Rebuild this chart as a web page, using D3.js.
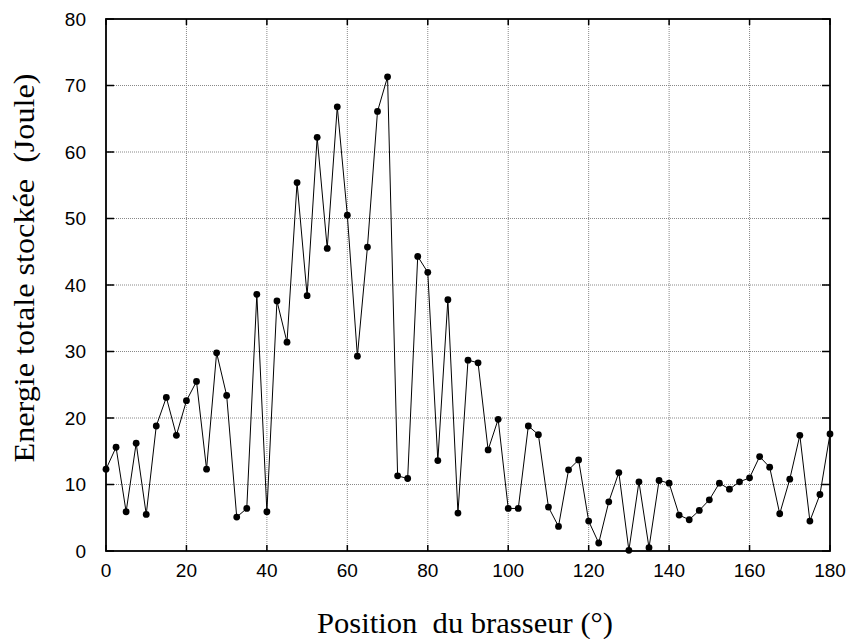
<!DOCTYPE html>
<html>
<head>
<meta charset="utf-8">
<script src="https://cdn.jsdelivr.net/npm/d3@7"></script>
<style>
  body { margin: 0; background: #fff; }
  .grid line { stroke: #888; stroke-width: 1; stroke-dasharray: 1,1; }
  .tick-label { font-family: "Liberation Sans", Arial, sans-serif; font-size: 19px; }
  .axis-title { font-family: "Liberation Serif", "Times New Roman", serif; font-size: 29px; white-space: pre; }
</style>
</head>
<body>
<div id="chart"></div>
<script>
const WIDTH = 850
const HEIGHT = 639

// angle (degrees) every 2.5 deg
const positions = d3.range(0, 180.01, 2.5)
const energies = [
    12.3, 15.6, 5.9, 16.2, 5.5, 18.8, 23.1, 17.4, 22.6, 25.5,
    12.3, 29.8, 23.4, 5.1, 6.4, 38.6, 5.9, 37.6, 31.4, 55.4,
    38.4, 62.2, 45.5, 66.8, 50.5, 29.3, 45.7, 66.1, 71.3, 11.3,
    10.9, 44.3, 41.9, 13.6, 37.8, 5.7, 28.7, 28.3, 15.2, 19.8,
    6.4, 6.4, 18.8, 17.5, 6.6, 3.7, 12.2, 13.7, 4.5, 1.2,
    7.4, 11.8, 0.1, 10.4, 0.5, 10.6, 10.2, 5.4, 4.7, 6.1,
    7.7, 10.2, 9.3, 10.4, 11.0, 14.2, 12.6, 5.6, 10.8, 17.4,
    4.5, 8.5, 17.6
]
const xTicks = [0, 20, 40, 60, 80, 100, 120, 140, 160, 180]
const yTicks = [0, 10, 20, 30, 40, 50, 60, 70, 80]

const data = positions.map((p, i) => ({ pos: p, energy: energies[i] }))

const margin = { left: 106, right: 20, top: 19, bottom: 88 }
const plotW = WIDTH - margin.left - margin.right
const plotH = HEIGHT - margin.top - margin.bottom

const x = d3.scaleLinear().domain([0, 180]).range([0, plotW])
const y = d3.scaleLinear().domain([0, 80]).range([plotH, 0])

const svg = d3.select("#chart").append("svg")
    .attr("width", WIDTH)
    .attr("height", HEIGHT)

const g = svg.append("g")
    .attr("transform", `translate(${margin.left},${margin.top})`)

// grid
const grid = g.append("g").attr("class", "grid")
grid.selectAll(".vgrid")
    .data(xTicks.slice(1, -1))
    .join("line")
    .attr("x1", d => x(d)).attr("x2", d => x(d))
    .attr("y1", 0).attr("y2", plotH)
grid.selectAll(".hgrid")
    .data(yTicks.slice(1, -1))
    .join("line")
    .attr("class", "hgrid")
    .attr("x1", 0).attr("x2", plotW)
    .attr("y1", d => y(d)).attr("y2", d => y(d))

// tick marks inside the frame
const ticks = g.append("g").attr("stroke", "#000").attr("stroke-width", 1.5)
ticks.selectAll(".xt")
    .data(xTicks)
    .join(enter => {
        const t = enter.append("g")
        t.append("line").attr("x1", d => x(d)).attr("x2", d => x(d)).attr("y1", plotH).attr("y2", plotH - 6)
        t.append("line").attr("x1", d => x(d)).attr("x2", d => x(d)).attr("y1", 0).attr("y2", 6)
        return t
    })
ticks.selectAll(".yt")
    .data(yTicks)
    .join(enter => {
        const t = enter.append("g")
        t.append("line").attr("x1", 0).attr("x2", 8).attr("y1", d => y(d)).attr("y2", d => y(d))
        t.append("line").attr("x1", plotW).attr("x2", plotW - 8).attr("y1", d => y(d)).attr("y2", d => y(d))
        return t
    })

// frame
g.append("rect")
    .attr("width", plotW)
    .attr("height", plotH)
    .attr("fill", "none")
    .attr("stroke", "#000")
    .attr("stroke-width", 1.8)

// tick labels
g.append("g").selectAll("text")
    .data(xTicks)
    .join("text")
    .attr("class", "tick-label")
    .attr("x", d => x(d))
    .attr("y", plotH + 26)
    .attr("text-anchor", "middle")
    .text(d => d)

g.append("g").selectAll("text")
    .data(yTicks)
    .join("text")
    .attr("class", "tick-label")
    .attr("x", -20)
    .attr("y", d => y(d))
    .attr("dy", "0.36em")
    .attr("text-anchor", "end")
    .text(d => d)

// series line + dots
const line = d3.line()
    .x(d => x(d.pos))
    .y(d => y(d.energy))

g.append("path")
    .datum(data)
    .attr("d", line)
    .attr("fill", "none")
    .attr("stroke", "#000")
    .attr("stroke-width", 1)

g.append("g").selectAll("circle")
    .data(data)
    .join("circle")
    .attr("cx", d => x(d.pos))
    .attr("cy", d => y(d.energy))
    .attr("r", 3.4)
    .attr("fill", "#000")

// axis titles
svg.append("text")
    .attr("class", "axis-title")
    .attr("x", 465)
    .attr("y", 633)
    .attr("text-anchor", "middle")
    .attr("textLength", 296)
    .attr("lengthAdjust", "spacingAndGlyphs")
    .text("Position  du brasseur (°)")

svg.append("text")
    .attr("class", "axis-title")
    .attr("transform", "translate(34,268) rotate(-90)")
    .attr("text-anchor", "middle")
    .attr("textLength", 389)
    .attr("lengthAdjust", "spacingAndGlyphs")
    .text("Energie totale stockée  (Joule)")
</script>
</body>
</html>
